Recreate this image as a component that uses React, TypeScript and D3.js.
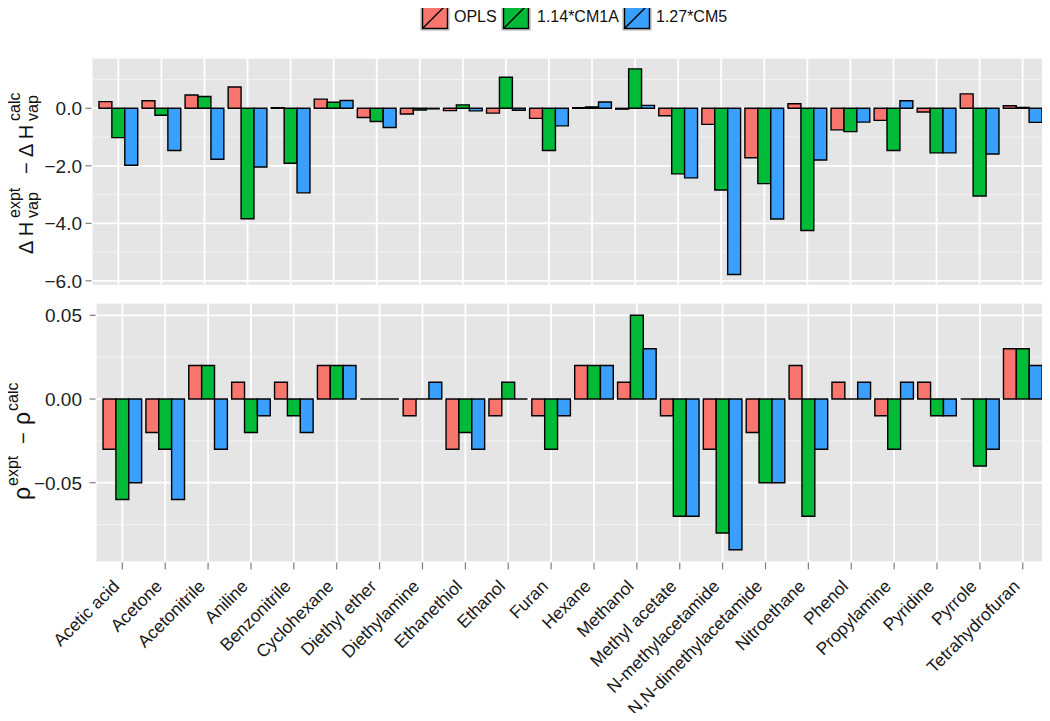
import React from "react";
import * as d3 from "d3";

const categories = [
  "Acetic acid", "Acetone", "Acetonitrile", "Aniline", "Benzonitrile", "Cyclohexane",
  "Diethyl ether", "Diethylamine", "Ethanethiol", "Ethanol", "Furan", "Hexane", "Methanol",
  "Methyl acetate", "N-methylacetamide", "N,N-dimethylacetamide", "Nitroethane", "Phenol",
  "Propylamine", "Pyridine", "Pyrrole", "Tetrahydrofuran",
];
const seriesNames = ["OPLS", "1.14*CM1A", "1.27*CM5"];
const seriesColors = ["#F8766D", "#00BA38", "#3AA0FF"];

const dHvapOPLS = [0.23, 0.26, 0.46, 0.74, 0.02, 0.32, -0.32, -0.2, -0.08, -0.17, -0.35, 0.02, -0.03, -0.26, -0.56, -1.72, 0.16, -0.75, -0.42, -0.13, 0.5, 0.09];
const dHvapCM1A = [-1.02, -0.24, 0.41, -3.84, -1.91, 0.21, -0.46, -0.06, 0.12, 1.08, -1.47, 0.05, 1.37, -2.28, -2.84, -2.62, -4.25, -0.81, -1.47, -1.55, -3.05, 0.03];
const dHvapCM5 = [-1.98, -1.47, -1.77, -2.04, -2.94, 0.27, -0.67, -0.02, -0.09, -0.07, -0.61, 0.22, 0.1, -2.42, -5.78, -3.85, -1.8, -0.48, 0.26, -1.55, -1.59, -0.49];

const rhoOPLS = [-0.03, -0.02, 0.02, 0.01, 0.01, 0.02, 0, -0.01, -0.03, -0.01, -0.01, 0.02, 0.01, -0.01, -0.03, -0.02, 0.02, 0.01, -0.01, 0.01, 0, 0.03];
const rhoCM1A = [-0.06, -0.03, 0.02, -0.02, -0.01, 0.02, 0, 0, -0.02, 0.01, -0.03, 0.02, 0.05, -0.07, -0.08, -0.05, -0.07, 0, -0.03, -0.01, -0.04, 0.03];
const rhoCM5 = [-0.05, -0.06, -0.03, -0.01, -0.02, 0.02, 0, 0.01, -0.03, 0, -0.01, 0.02, 0.03, -0.07, -0.09, -0.05, -0.03, 0.01, 0.01, -0.01, -0.03, 0.02];

const topMajorTicks = [0, -2, -4, -6];
const topMinorTicks = [1, -1, -3, -5];
const bottomMajorTicks = [0.05, 0, -0.05];
const bottomMinorTicks = [0.025, -0.025, -0.075];

const W = 1050;
const H = 721;
const FONT = "'Liberation Sans', Arial, Helvetica, sans-serif";

function expandDomain(vals: number[]) {
  const mn = Math.min(0, d3.min(vals) as number);
  const mx = Math.max(0, d3.max(vals) as number);
  const r = mx - mn;
  return [mn - 0.05 * r, mx + 0.05 * r];
}

function Panel(props: {
  left: number; right: number; top: number; bottom: number;
  series: number[][]; major: number[]; minor: number[]; fmt: (v: number) => string;
  showX: boolean;
}) {
  const { left, right, top, bottom, series, major, minor, fmt, showX } = props;
  const all = series.flat();
  const y = d3.scaleLinear().domain(expandDomain(all)).range([bottom, top]);
  // ggplot discrete expand: 0.6 units each side
  const n = categories.length;
  const x = d3.scaleLinear().domain([0.4, n + 0.6]).range([left, right]);
  const cx = (i: number) => x(i + 1);
  const bw = (x(1.9) - x(1)) / 3;
  return (
    <g>
      <rect x={left} y={top} width={right - left} height={bottom - top} fill="#E5E5E5" />
      {minor.map((v) => (
        <line key={"mi" + v} x1={left} x2={right} y1={y(v)} y2={y(v)} stroke="#F2F2F2" strokeWidth={1} />
      ))}
      {major.map((v) => (
        <line key={"ma" + v} x1={left} x2={right} y1={y(v)} y2={y(v)} stroke="#FFFFFF" strokeWidth={1.8} />
      ))}
      {categories.map((c, i) => (
        <line key={"vg" + c} x1={cx(i)} x2={cx(i)} y1={top} y2={bottom} stroke="#FFFFFF" strokeWidth={1.8} />
      ))}
      {series.map((vals, s) =>
        vals.map((v, i) => {
          const x0 = cx(i) - 1.5 * bw + s * bw;
          const x1 = x0 + bw;
          const y0 = y(0);
          const y1 = y(v);
          const d = `M${x0},${y0}H${x1}V${y1}H${x0}Z`;
          return (
            <path key={`b${s}-${i}`} d={d} fill={seriesColors[s]} stroke="#000" strokeWidth={1.4} />
          );
        })
      )}
      {major.map((v) => (
        <g key={"yt" + v}>
          <line x1={left - 7} x2={left - 1} y1={y(v)} y2={y(v)} stroke="#7F7F7F" strokeWidth={1.2} />
          <text x={82} y={y(v)} dy="0.36em" textAnchor="end" fontSize={19} fill="#222" fontFamily={FONT}>
            {fmt(v)}
          </text>
        </g>
      ))}
      {showX &&
        categories.map((c, i) => (
          <g key={"xt" + c}>
            <line x1={cx(i)} x2={cx(i)} y1={bottom + 1} y2={bottom + 8} stroke="#7F7F7F" strokeWidth={1.2} />
            <text
              transform={`translate(${cx(i) - 2},${bottom + 26}) rotate(-45)`}
              textAnchor="end"
              fontSize={17.5}
              fill="#1a1a1a"
              fontFamily={FONT}
            >
              {c}
            </text>
          </g>
        ))}
    </g>
  );
}

function Legend() {
  const keyX = [421, 502, 623];
  const textX = [454, 537, 656];
  return (
    <g>
      {seriesNames.map((nm, i) => (
        <g key={nm}>
          <rect x={keyX[i]} y={2} width={28} height={28} fill="#F2F2F2" stroke="#AAAAAA" strokeWidth={1} />
          <rect x={keyX[i] + 1.5} y={3.5} width={25} height={25} fill={seriesColors[i]} stroke="#000" strokeWidth={1.4} />
          <line x1={keyX[i] + 1.5} y1={28.5} x2={keyX[i] + 26.5} y2={3.5} stroke="#000" strokeWidth={1.4} />
          <text x={textX[i]} y={22} fontSize={16} fill="#111" fontFamily={FONT}>{nm}</text>
        </g>
      ))}
    </g>
  );
}

function TopTitle() {
  // rotated -90 at (33,168); local x runs upward on screen
  return (
    <g transform="translate(33,168) rotate(-90)" fontFamily={FONT} fill="#111">
      <text x={-86} y={0} fontSize={20}>Δ H</text>
      <text x={-50} y={-13} fontSize={16}>expt</text>
      <text x={-50} y={5} fontSize={16}>vap</text>
      <text x={-6} y={0} fontSize={20}>−</text>
      <text x={11} y={0} fontSize={20}>Δ H</text>
      <text x={47} y={-13} fontSize={16}>calc</text>
      <text x={47} y={5} fontSize={16}>vap</text>
    </g>
  );
}

function BottomTitle() {
  return (
    <g transform="translate(30,436) rotate(-90)" fontFamily={FONT} fill="#111">
      <text x={-64} y={0} fontSize={23}>ρ</text>
      <text x={-50} y={-12} fontSize={16}>expt</text>
      <text x={-8} y={0} fontSize={20}>−</text>
      <text x={11} y={0} fontSize={23}>ρ</text>
      <text x={25} y={-12} fontSize={16}>calc</text>
    </g>
  );
}

export default function App() {
  return (
    <svg width={W} height={H} style={{ display: "block", margin: -8, background: "#fff" }}>
      <rect width={W} height={H} fill="#fff" />
      <Legend />
      <Panel
        left={92.5}
        right={1048.5}
        top={58.6}
        bottom={284.8}
        series={[dHvapOPLS, dHvapCM1A, dHvapCM5]}
        major={topMajorTicks}
        minor={topMinorTicks}
        fmt={d3.format(".1f")}
        showX={false}
      />
      <Panel
        left={96.6}
        right={1048.5}
        top={303.6}
        bottom={561.4}
        series={[rhoOPLS, rhoCM1A, rhoCM5]}
        major={bottomMajorTicks}
        minor={bottomMinorTicks}
        fmt={d3.format(".2f")}
        showX={true}
      />
      <TopTitle />
      <BottomTitle />
    </svg>
  );
}
